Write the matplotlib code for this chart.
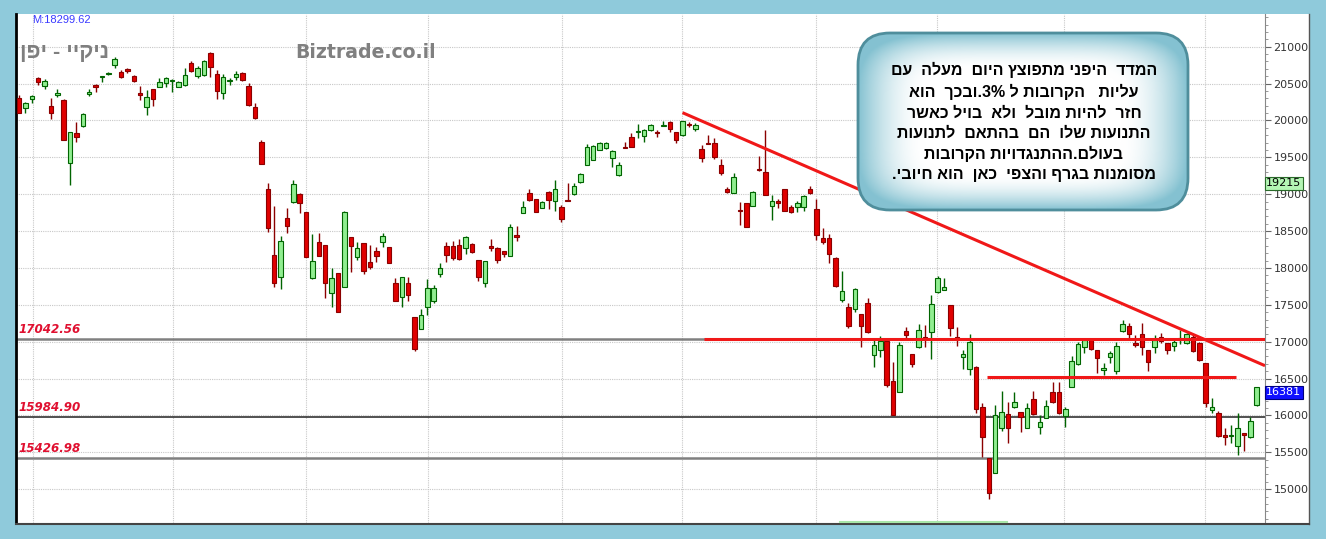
import re
import numpy as np
import matplotlib
matplotlib.use("Agg")
import matplotlib.pyplot as plt
import matplotlib.patches as patches
import matplotlib.transforms as mtransforms
from matplotlib.lines import Line2D

# Nikkei daily candles
opens = [20300, 20164, 20287, 20571, 20467, 20196, 20341, 20277, 19419, 19825,
         19924, 20354, 20476, 20585, 20629, 20751, 20656, 20693, 20602, 20368,
         20186, 20422, 20449, 20503, 20535, 20458, 20480, 20774, 20602, 20616,
         20918, 20629, 20376, 20535, 20585, 20647, 20467, 20186, 19712, 19066,
         18175, 17881, 18681, 18898, 19003, 18755, 17860, 18347, 18311, 17664,
         17935, 17746, 18415, 18152, 18342, 18085, 18234, 18356, 18280, 17792,
         17610, 17800, 17338, 17171, 17467, 17556, 17917, 18297, 18297, 18311,
         18266, 18324, 18107, 17800, 18302, 18275, 18234, 18161, 18446, 18750,
         19017, 18935, 18809, 19025, 18912, 18823, 18926, 19003, 19169, 19395,
         19463, 19599, 19622, 19486, 19257, 19644, 19771, 19847, 19789, 19870,
         19847, 19925, 19983, 19847, 19803, 19952, 19880, 19608, 19698, 19690,
         19395, 19066, 19012, 18790, 18876, 18844, 19336, 19304, 18840, 18912,
         19066, 18823, 18822, 18822, 19071, 18800, 18401, 18401, 18131, 17565,
         17467, 17439, 17374, 17520, 16819, 16887, 17013, 16471, 16322, 17149,
         16833, 16932, 17067, 17135, 17678, 17701, 17497, 17067, 16788, 16625,
         16661, 16110, 15418, 15223, 15825, 16019, 16118, 16050, 15825, 16219,
         15839, 15961, 16313, 16313, 15992, 16389, 16697, 16924, 17023, 16887,
         16616, 16796, 16606, 17149, 17212, 16978, 17104, 16887, 16924, 17067,
         16978, 16941, 17023, 16986, 17067, 16986, 16715, 16074, 16036, 15734,
         15721, 15585, 15757, 15703, 16141]
highs = [20345, 20254, 20345, 20593, 20558, 20300, 20422, 20295, 19847, 19983,
         20105, 20422, 20494, 20602, 20656, 20855, 20684, 20706, 20616, 20467,
         20413, 20422, 20571, 20585, 20558, 20530, 20706, 20810, 20738, 20819,
         20932, 20684, 20629, 20571, 20670, 20661, 20503, 20232, 19735, 19147,
         18840, 18433, 18808, 19192, 19012, 18760, 18460, 18470, 18311, 17994,
         17935, 18770, 18415, 18356, 18342, 18311, 18288, 18470, 18290, 17860,
         17873, 17873, 17338, 17442, 17846, 17769, 18063, 18356, 18369, 18388,
         18433, 18333, 18107, 18094, 18388, 18288, 18234, 18595, 18568, 18912,
         19071, 18940, 18912, 19048, 19192, 18853, 19156, 19147, 19291, 19680,
         19667, 19712, 19712, 19599, 19436, 19712, 19834, 19952, 19880, 19952,
         19870, 19997, 19997, 19847, 19997, 19983, 19961, 19667, 19803, 19757,
         19472, 19102, 19282, 18898, 18880, 19048, 19517, 19870, 18990, 18935,
         19075, 18853, 18912, 18990, 19111, 18935, 18537, 18460, 18154, 17962,
         17529, 17724, 17374, 17589, 17023, 17077, 17013, 16729, 17000, 17203,
         16833, 17240, 17226, 17633, 17890, 17860, 17497, 17203, 16887, 17104,
         16670, 16164, 15418, 16141, 16335, 16186, 16322, 16050, 16172, 16335,
         16006, 16209, 16457, 16457, 16118, 16806, 17000, 17046, 17032, 16887,
         16707, 16878, 17000, 17294, 17257, 17091, 17249, 16887, 17091, 17122,
         16986, 17023, 17158, 17122, 17091, 17000, 16715, 16233, 16064, 15825,
         15870, 16029, 15757, 15974, 16389]
lows = [20096, 20105, 20232, 20480, 20422, 20015, 20322, 19735, 19124, 19712,
        19915, 20331, 20390, 20525, 20612, 20706, 20571, 20647, 20525, 20277,
        20074, 20196, 20449, 20458, 20390, 20449, 20467, 20661, 20571, 20602,
        20585, 20295, 20295, 20480, 20548, 20539, 20196, 20015, 19409, 18491,
        17737, 17710, 18477, 18885, 18749, 18150, 17846, 18161, 17589, 17474,
        17400, 17746, 17949, 18107, 17917, 17982, 18085, 18288, 18063, 17556,
        17474, 17556, 16877, 17171, 17365, 17529, 17873, 18085, 18107, 18107,
        18189, 18206, 17827, 17746, 18234, 18071, 18144, 18161, 18369, 18742,
        18912, 18760, 18809, 18800, 18767, 18627, 18912, 18990, 19156, 19395,
        19463, 19599, 19608, 19373, 19243, 19622, 19644, 19757, 19712, 19857,
        19780, 19925, 19847, 19698, 19789, 19916, 19857, 19440, 19680, 19472,
        19257, 19021, 19012, 18578, 18555, 18844, 19313, 18990, 18650, 18814,
        18770, 18742, 18764, 18767, 19003, 18379, 18324, 18063, 17746, 17542,
        17183, 17406, 16922, 17114, 16661, 16796, 16389, 16006, 16322, 17046,
        16652, 16910, 16932, 16761, 17664, 17701, 17077, 16941, 16625, 16548,
        16029, 15432, 14862, 15223, 15793, 15630, 16097, 15779, 15825, 16006,
        15748, 15961, 16172, 16019, 15847, 16389, 16684, 16851, 16887, 16571,
        16548, 16707, 16562, 17135, 17032, 16932, 16819, 16606, 16851, 16978,
        16833, 16878, 16968, 16968, 16864, 16742, 16118, 16029, 15703, 15599,
        15630, 15463, 15521, 15689, 16128]
closes = [20105, 20232, 20327, 20517, 20539, 20105, 20372, 19735, 19847, 19771,
          20087, 20390, 20458, 20598, 20647, 20837, 20585, 20670, 20530, 20341,
          20322, 20295, 20525, 20571, 20548, 20521, 20616, 20670, 20715, 20810,
          20720, 20399, 20593, 20548, 20629, 20548, 20209, 20029, 19409, 18537,
          17800, 18369, 18568, 19138, 18885, 18154, 18094, 18161, 17792, 17860,
          17406, 18764, 18297, 18266, 17962, 18017, 18161, 18433, 18063, 17556,
          17873, 17633, 16900, 17365, 17724, 17724, 17994, 18175, 18130, 18117,
          18424, 18220, 17881, 18094, 18275, 18107, 18189, 18550, 18424, 18823,
          18926, 18764, 18898, 18926, 19071, 18660, 18912, 19111, 19273, 19643,
          19657, 19698, 19690, 19589, 19391, 19630, 19644, 19861, 19870, 19938,
          19834, 19938, 19884, 19735, 19997, 19938, 19938, 19486, 19680, 19500,
          19291, 19034, 19228, 18770, 18559, 19025, 19322, 18990, 18912, 18876,
          18776, 18764, 18876, 18976, 19012, 18446, 18356, 18189, 17755, 17691,
          17214, 17714, 17216, 17136, 16955, 17009, 16412, 16006, 16955, 17091,
          16697, 17158, 17046, 17511, 17860, 17737, 17181, 17046, 16833, 17000,
          16083, 15703, 14952, 16006, 16050, 15825, 16186, 15974, 16097, 16019,
          15907, 16128, 16186, 16029, 16083, 16738, 16968, 17023, 16897, 16774,
          16639, 16851, 16941, 17240, 17104, 16955, 16932, 16729, 17023, 17013,
          16887, 17000, 17050, 17104, 16878, 16752, 16164, 16118, 15720, 15711,
          15734, 15825, 15734, 15928, 16380]

# horizontal levels marked on the chart
levels = [17042.56, 15984.90, 15426.98]
level_colors = ['#808080', '#333333', '#808080']
level_widths = [1.8, 1.2, 1.8]

# red lines drawn by the analyst (x = candle index, y = price)
trend_x, trend_y = [104, 195.3], [20105, 16674]
resist_x, resist_y = [107.4, 195.3], [17030, 17030]
support_x, support_y = [151.7, 190.8], [16517, 16517]

# month separators (candle index)
month_lines = [2.2, 24.1, 45, 64.1, 85.1, 103.9, 124.9, 143.9, 163.8, 185.9]

last_label = 16381
marker_label = 19215

note_lines = [
    "המדד  היפני מתפוצץ היום  מעלה  עם",
    "עליות   הקרובות ל 3%.ובכך  הוא",
    "חזר  להיות מובל  ולא  בויל כאשר",
    "התנועות שלו  הם  בהתאם  לתנועות",
    "בעולם.ההתנגדויות הקרובות",
    "מסומנות בגרף והצפי  כאן  הוא חיובי.",
]
title_he = "ניקיי - יפן"


def visual(s):
    # matplotlib draws left to right: flip the Hebrew, keep numbers readable
    r = s[::-1]
    return re.sub(r'[0-9A-Za-z%]+', lambda m: m.group(0)[::-1], r)


W, H = 1326, 539


def fx(px):
    return px / W


def fy(py):
    return 1 - py / H


o = np.array(opens, float)
h = np.array(highs, float)
l = np.array(lows, float)
c = np.array(closes, float)
x = np.arange(len(c))
up = c >= o

fig = plt.figure(figsize=(W / 100, H / 100), dpi=100)
fig.patch.set_facecolor('#8fcadb')

# white panel incl. the price scale
fig.add_artist(patches.Rectangle((fx(16), fy(524)), fx(1309) - fx(16), fy(14) - fy(524),
                                 transform=fig.transFigure, facecolor='white',
                                 edgecolor='none', zorder=-1))
fig.add_artist(Line2D([fx(1309), fx(1309)], [fy(14), fy(524)], color='#555555', lw=1))
fig.add_artist(Line2D([fx(16), fx(1309)], [fy(523.5), fy(523.5)], color='#444444', lw=1.5))
fig.add_artist(Line2D([fx(840), fx(1007)], [fy(522), fy(522)], color='#a8e6a8', lw=1.5))

ax = fig.add_axes([fx(16), fy(523), fx(1265) - fx(16), fy(14) - fy(523)])
ax.set_facecolor('white')
ax.set_xlim(-0.47, 195.3)
ax.set_ylim(14541, 21443)

for side in ['top', 'bottom']:
    ax.spines[side].set_visible(False)
ax.spines['left'].set_color('black')
ax.spines['left'].set_linewidth(2)
ax.spines['right'].set_color('#888888')

# price scale on the right
ax.yaxis.tick_right()
ax.set_yticks(np.arange(15000, 21001, 500))
ax.set_yticks(np.arange(14600, 21401, 100), minor=True)
ax.tick_params(axis='y', which='major', length=4, color='#666666', labelsize=8,
               labelcolor='#333333', pad=2)
ax.tick_params(axis='y', which='minor', length=2, color='#888888')
ax.set_xticks(month_lines)
ax.set_xticklabels([])
ax.tick_params(axis='x', length=0)
ax.grid(True, color='#c8c8c8', linestyle=(0, (1, 1)), linewidth=0.8)
ax.set_axisbelow(True)

# level lines and their labels
blend = mtransforms.blended_transform_factory(ax.transAxes, ax.transData)
for lev, col, lw in zip(levels, level_colors, level_widths):
    ax.axhline(lev, color=col, lw=lw, zorder=1)
    ax.annotate(f"{lev:.2f}", xy=(0, lev), xycoords=blend, xytext=(2, 2),
                textcoords='offset points', va='bottom', ha='left', fontsize=8.6,
                color='#e01030', fontweight='bold', fontstyle='italic', zorder=2)

# candles
ax.vlines(x[up], l[up], h[up], color='#006400', lw=1, zorder=3)
ax.vlines(x[~up], l[~up], h[~up], color='#8b0000', lw=1, zorder=3)
bottom = np.minimum(o, c)
height = np.maximum(np.abs(c - o), 12)
ax.bar(x[up], height[up], bottom=bottom[up], width=0.7, color='#90ee90',
       edgecolor='#006400', lw=0.8, zorder=4)
ax.bar(x[~up], height[~up], bottom=bottom[~up], width=0.7, color='#e00000',
       edgecolor='#8b0000', lw=0.8, zorder=4)

# analyst lines
for lx, ly in [(trend_x, trend_y), (resist_x, resist_y), (support_x, support_y)]:
    ax.plot(lx, ly, color='#f01818', lw=2.2, solid_capstyle='butt', zorder=5)

# texts on the chart
ax.text((32 - 16) / 1249, 1 - 6 / 509, "M:18299.62", transform=ax.transAxes,
        fontsize=8, color='#3a3aff', va='center', ha='left',
        family=['Liberation Sans', 'DejaVu Sans'])
ax.text(4 / 1249, 1 - 38 / 509, visual(title_he), transform=ax.transAxes, fontsize=15.5,
        fontweight='bold', color='#7f7f7f', va='center', ha='left', zorder=1,
        family=['Liberation Sans', 'DejaVu Sans'])
ax.text((295 - 16) / 1249, 1 - 38 / 509, "Biztrade.co.il", transform=ax.transAxes,
        fontsize=13.6, fontweight='bold', color='#808080', va='center', ha='left', zorder=1)

# last value boxes on the price scale
ax.text(1.001, marker_label, str(marker_label), transform=blend, va='top', ha='left',
        fontsize=8, color='black', clip_on=False, zorder=10,
        bbox=dict(boxstyle='square,pad=0.15', facecolor='#b4f5b4', edgecolor='#2a6a2a', lw=0.8))
ax.text(1.001, last_label, str(last_label), transform=blend, va='top', ha='left',
        fontsize=8, color='white', clip_on=False, zorder=10,
        bbox=dict(boxstyle='square,pad=0.15', facecolor='#1010ff', edgecolor='#000080', lw=0.8))

# rounded note box with a soft gradient
bx0, bx1, by0, by1 = 858, 1188, 33, 210
box = patches.FancyBboxPatch((bx0 / 100, (H - by1) / 100), (bx1 - bx0) / 100, (by1 - by0) / 100,
                             boxstyle="round,pad=0,rounding_size=0.32",
                             transform=fig.dpi_scale_trans, facecolor='none',
                             edgecolor='#4f8e9c', lw=2, zorder=5)
gax = fig.add_axes([fx(bx0), fy(by1), fx(bx1) - fx(bx0), fy(by0) - fy(by1)])
gax.axis('off')
u, v = np.meshgrid(np.linspace(-1, 1, 300), np.linspace(-1, 1, 200))
d = (np.abs(u) ** 5 + np.abs(v) ** 5) ** 0.2
t = np.clip((d - 0.6) / 0.4, 0, 1) ** 1.8
inner = np.array([1.0, 1.0, 1.0])
outer = np.array([0.52, 0.76, 0.82])
grad = inner[None, None, :] * (1 - t[..., None]) + outer[None, None, :] * t[..., None]
im = gax.imshow(grad, extent=[0, 1, 0, 1], aspect='auto')
fig.add_artist(box)
im.set_clip_path(box)

line_y = [70, 92, 113, 133, 154, 175]
for txt, py in zip(note_lines, line_y):
    fig.text(fx(1024), fy(py), visual(txt), ha='center', va='center', fontsize=11.5,
             fontweight='bold', color='black', zorder=6,
             family=['Liberation Sans', 'DejaVu Sans'])

fig.savefig('out.png', dpi=100, facecolor=fig.get_facecolor())
plt.close(fig)
